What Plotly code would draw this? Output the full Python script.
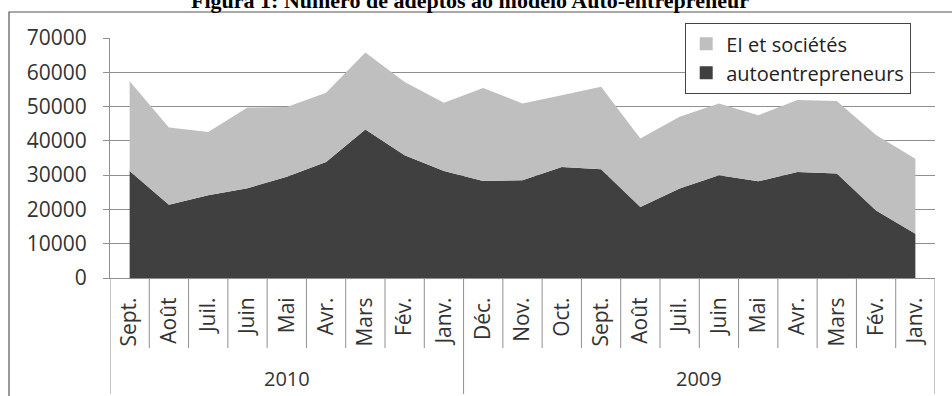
import plotly.graph_objects as go

# ---- data ----
months = ["Sept.", "Août", "Juil.", "Juin", "Mai", "Avr.", "Mars", "Fév.", "Janv.",
          "Déc.", "Nov.", "Oct.", "Sept.", "Août", "Juil.", "Juin", "Mai", "Avr.", "Mars", "Fév.", "Janv."]
years = ["2010", "2009"]
year_counts = [9, 12]
auto = [31200, 21400, 24100, 26200, 29500, 33800, 43300, 35800, 31200, 28300, 28500,
        32400, 31700, 20700, 26100, 30000, 28200, 30900, 30500, 19700, 12900]
ei = [26200, 22500, 18500, 23500, 20400, 20200, 22500, 21400, 19900, 27100, 22400,
      20900, 24100, 20000, 20900, 20900, 19300, 21000, 21100, 22000, 21900]
series_names = ["EI et sociétés", "autoentrepreneurs"]
title_text = "Figura 1: Número de adeptos ao modelo Auto-entrepreneur"

# ---- layout constants ----
W, H = 952, 396
ML, MR, MT, MB = 110, 17, 38, 118
PW, PH = W - ML - MR, H - MT - MB
C_LIGHT, C_DARK = "#bfbfbf", "#404040"
GRID = "#8f8f8f"
FONT = "Open Sans"


def px_x(px):
    return (px - ML) / PW


def px_y(py):
    return (H - MB - py) / PH


xs = list(range(len(months)))
fig = go.Figure()
fig.add_trace(go.Scatter(x=xs, y=auto, stackgroup="one", mode="none",
                         fillcolor=C_DARK, showlegend=False, hoverinfo="skip"))
fig.add_trace(go.Scatter(x=xs, y=ei, stackgroup="one", mode="none",
                         fillcolor=C_LIGHT, showlegend=False, hoverinfo="skip"))
# legend entries (square swatches)
fig.add_trace(go.Scatter(x=[None], y=[None], mode="markers", name=series_names[1],
                         marker=dict(symbol="square", size=13, color=C_DARK)))
fig.add_trace(go.Scatter(x=[None], y=[None], mode="markers", name=series_names[0],
                         marker=dict(symbol="square", size=13, color=C_LIGHT)))

shapes = []
# category boundaries
bounds_outer = [-0.5]
acc = -0.5
for c in year_counts:
    acc += c
    bounds_outer.append(acc)
for i in range(len(months) + 1):
    b = i - 0.5
    length = 116 if any(abs(b - o) < 1e-9 for o in bounds_outer) else 70
    shapes.append(dict(type="line", xref="x", yref="paper", ysizemode="pixel", yanchor=0,
                       x0=b, x1=b, y0=0, y1=-length, line=dict(color=GRID, width=1)))
# outer chart border (left + top)
shapes.append(dict(type="path", xref="paper", yref="paper",
                   path=f"M {px_x(9)},{px_y(H)} L {px_x(9)},{px_y(12)} L {px_x(W + 5)},{px_y(12)}",
                   line=dict(color="#555555", width=1.2)))

annotations = []
start = -0.5
for y_lbl, c in zip(years, year_counts):
    annotations.append(dict(x=start + c / 2, y=0, xref="x", yref="paper", yshift=-100,
                            text=y_lbl, showarrow=False, yanchor="middle", xanchor="center",
                            font=dict(family=FONT, size=20, color="#333333")))
    start += c
annotations.append(dict(x=px_x(470), y=px_y(0.5), xref="paper", yref="paper", text=f"<b>{title_text}</b>",
                        showarrow=False, xanchor="center", yanchor="middle",
                        font=dict(family="Liberation Serif", size=22, color="#000000")))

fig.update_layout(
    width=W, height=H,
    margin=dict(l=ML, r=MR, t=MT, b=MB),
    paper_bgcolor="white", plot_bgcolor="white",
    shapes=shapes, annotations=annotations,
    legend=dict(x=px_x(685), y=px_y(23), xanchor="left", yanchor="top",
                bgcolor="white", bordercolor="#444444", borderwidth=1.2,
                font=dict(family=FONT, size=20, color="#222222"),
                traceorder="reversed", itemwidth=30, tracegroupgap=0),
    xaxis=dict(range=[-0.5, len(months) - 0.5], tickmode="array", tickvals=xs, ticktext=months,
               tickangle=-90, ticks="", showgrid=False, zeroline=False,
               showline=True, linecolor=GRID, linewidth=1,
               tickfont=dict(family=FONT, size=21, color="#333333"), ticklabelstandoff=10),
    yaxis=dict(range=[0, 70000], tickvals=[0, 10000, 20000, 30000, 40000, 50000, 60000, 70000],
               tickformat="d", showgrid=True, gridcolor=GRID, gridwidth=1, zeroline=False,
               showline=True, linecolor=GRID, linewidth=1, ticks="outside", ticklen=6,
               tickcolor=GRID, tickfont=dict(family=FONT, size=21, color="#333333"),
               ticklabelstandoff=12),
    showlegend=True,
)

fig.write_html("out.html")
